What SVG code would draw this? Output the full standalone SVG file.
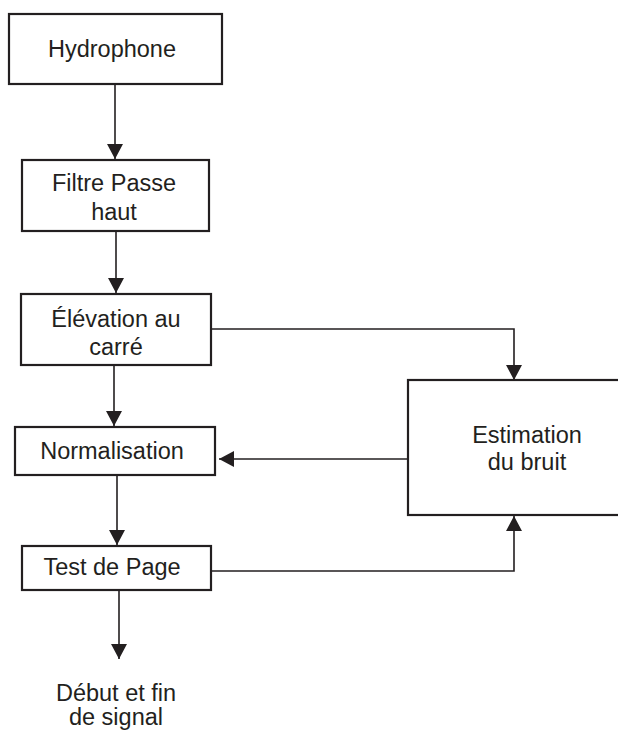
<svg xmlns="http://www.w3.org/2000/svg" width="618" height="731" viewBox="0 0 618 731">
<style>
.box{fill:#fff;stroke:#231f20;stroke-width:2.2}
.c{fill:none;stroke:#231f20;stroke-width:1.6}
text{font-family:"Liberation Sans",Arial,sans-serif;font-size:23.5px;fill:#231f20;text-anchor:middle}
</style>
<defs>
<marker id="ah" markerUnits="userSpaceOnUse" markerWidth="16" markerHeight="16" viewBox="0 0 16 16" refX="15" refY="8" orient="auto">
<path d="M0,0 L15,8 L0,16 Z" fill="#231f20"/>
</marker>
</defs>
<rect width="618" height="731" fill="#fff"/>
<g id="connectors">
<path class="c" d="M115,84 V159" marker-end="url(#ah)"/>
<path class="c" d="M116,231 V293" marker-end="url(#ah)"/>
<path class="c" d="M114,365 V426" marker-end="url(#ah)"/>
<path class="c" d="M117,475 V545" marker-end="url(#ah)"/>
<path class="c" d="M119,590 V659" marker-end="url(#ah)"/>
<path class="c" d="M211,329 H514 V380" marker-end="url(#ah)"/>
<path class="c" d="M408,459 H219" marker-end="url(#ah)"/>
<path class="c" d="M211,571 H514 V516" marker-end="url(#ah)"/>
</g>
<g id="hydrophone">
<rect class="box" x="9" y="14" width="213" height="70"/>
<text x="112" y="57">Hydrophone</text>
</g>
<g id="filtre">
<rect class="box" x="22" y="160" width="187" height="71"/>
<text x="114" y="191">Filtre Passe</text>
<text x="114" y="220">haut</text>
</g>
<g id="elevation">
<rect class="box" x="21" y="294" width="190" height="71"/>
<text x="116" y="327">Élévation au</text>
<text x="116" y="355">carré</text>
</g>
<g id="normalisation">
<rect class="box" x="15" y="427" width="200" height="48"/>
<text x="112" y="459">Normalisation</text>
</g>
<g id="test">
<rect class="box" x="22" y="546" width="189" height="44"/>
<text x="112" y="575">Test de Page</text>
</g>
<g id="estimation">
<rect class="box" x="408" y="380" width="215" height="135"/>
<text x="527" y="443">Estimation</text>
<text x="527" y="470">du bruit</text>
</g>
<g id="sortie">
<text x="116" y="701">Début et fin</text>
<text x="116" y="725">de signal</text>
</g>
</svg>
